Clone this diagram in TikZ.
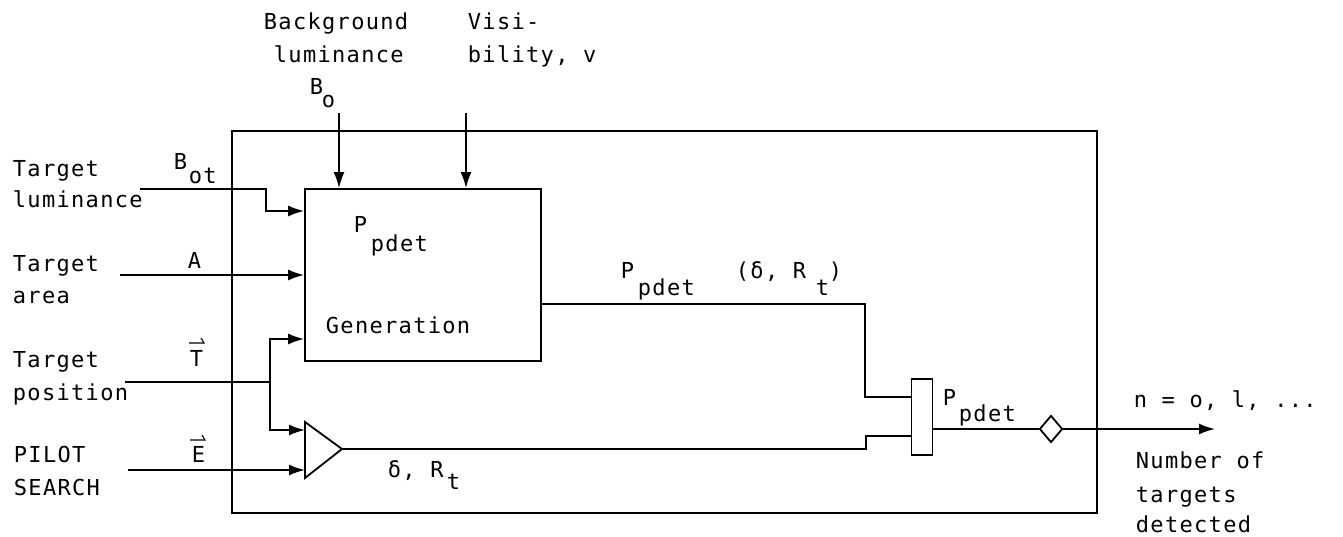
\documentclass[tikz,border=0pt]{standalone}
\usepackage{fontspec}
\newfontfamily\lblfam{DejaVu Sans Mono}[LetterSpace=6]
\newcommand\lblfont{\lblfam\fontsize{22}{24}\selectfont}
\usetikzlibrary{arrows.meta,shapes.geometric}
\begin{document}
\begin{tikzpicture}[x=1pt,y=-1pt,line width=1.8pt,
  txt/.style={anchor=base west,inner sep=0pt,font=\lblfont},
  arr/.style={-{Latex[length=16pt,width=11pt]}},
  blk/.style={draw,rectangle,inner sep=0pt},
  harp/.style={line width=1.1pt}]
\useasboundingbox (0,0) rectangle (1343,537);
% outer frame
\draw (232,131) rectangle (1097,513);
% blocks
\node[blk,minimum width=236pt,minimum height=172pt] (gen) at (423,275) {};
\node[blk,minimum width=21pt,minimum height=76pt] (comb) at (922,417) {};
\node[draw,shape=diamond,inner sep=0pt,minimum width=23pt,minimum height=27pt] (dia) at (1051,429) {};
% comparator triangle
\coordinate (triA) at (305,422);
\coordinate (triB) at (305,478);
\coordinate (triout) at (342,449);
\coordinate (tri1) at (305,430);
\coordinate (tri2) at (305,470);
\draw (triA) -- (triout) -- (triB) -- cycle;
% free ends and junctions
\coordinate (bin) at (339,113);
\coordinate (vin) at (466,113);
\coordinate (tlum) at (140,189);
\coordinate (tarea) at (120,275);
\coordinate (tpos) at (125,382);
\coordinate (jp) at (270,382);
\coordinate (ps) at (128,470);
\coordinate (outend) at (1215,429);
% connectors
\draw[arr] (bin) -- (bin |- gen.north);
\draw[arr] (vin) -- (vin |- gen.north);
\draw[arr] (tlum) -- (266,189) -- (266,211) -- (gen.west |- 0,211);
\draw[arr] (tarea) -- (gen.west |- tarea);
\draw (tpos) -- (jp);
\draw[arr] (jp) -- (270,339) -- (gen.west |- 0,339);
\draw[arr] (jp) -- (270,430) -- (tri1);
\draw[arr] (ps) -- (tri2);
\draw (triout) -- (866,449) -- (866,436) -- (comb.west |- 0,436);
\draw (gen.east |- 0,304) -- (865,304) -- (865,397) -- (comb.west |- 0,397);
\draw (comb.east |- dia.west) -- (dia.west);
\draw[arr] (dia.east) -- (outend);
% texts
\node[txt] at (263,30) {Background};
\node[txt] at (273,63) {luminance};
\node[txt] at (309,95) {B};
\node[txt] at (321,108) {o};
\node[txt] at (467,30) {Visi-};
\node[txt] at (467,63) {bility, v};
\node[txt] at (12,177) {Target};
\node[txt] at (12,208) {luminance};
\node[txt] at (173,170) {B};
\node[txt] at (188,184) {ot};
\node[txt] at (353,233) {P};
\node[txt] at (370,252) {pdet};
\node[txt] at (325,333) {Generation};
\node[txt] at (12,272) {Target};
\node[txt] at (12,303) {area};
\node[txt] at (187,269) {A};
\node[txt] at (12,367) {Target};
\node[txt] at (12,400) {position};
\node[txt] (T) at (189,366) {T};
\draw[harp] (189,343) -- (204,343) -- (201,338);
\node[txt] at (13,462) {PILOT};
\node[txt] at (13,495) {SEARCH};
\node[txt] (E) at (191,462) {E};
\draw[harp] (190,440) -- (205,440) -- (202,435);
\node[txt] at (387,477) {δ, R};
\node[txt] at (446,489) {t};
\node[txt] at (620,278) {P};
\node[txt] at (637,295) {pdet};
\node[txt] at (735,278) {(δ, R};
\node[txt] at (815,295) {t};
\node[txt] at (828,278) {)};
\node[txt] at (942,405) {P};
\node[txt] at (958,421) {pdet};
\node[txt] at (1133,407) {n = o, l, ...};
\node[txt] at (1135,468) {Number of};
\node[txt] at (1135,502) {targets};
\node[txt] at (1135,532) {detected};
\end{tikzpicture}
\end{document}
